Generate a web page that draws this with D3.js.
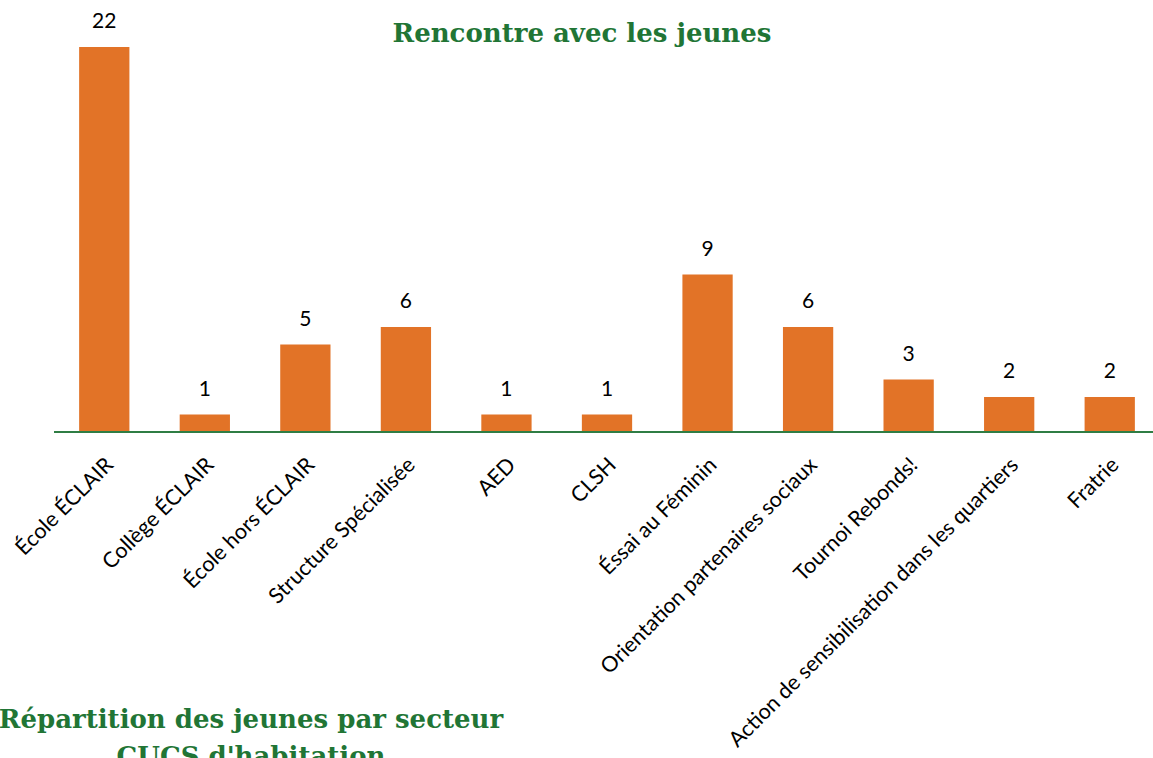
<!DOCTYPE html>
<html>
<head>
<meta charset="utf-8">
<script src="https://cdn.jsdelivr.net/npm/d3@7"></script>
<style>
  body { margin: 0; background: #fff; }
  svg { display: block; }
</style>
</head>
<body>
<div id="chart"></div>
<script>
var categories = ["École ÉCLAIR", "Collège ÉCLAIR", "École hors ÉCLAIR", "Structure Spécialisée",
  "AED", "CLSH", "Éssai au Féminin", "Orientation partenaires sociaux", "Tournoi Rebonds!",
  "Action de sensibilisation dans les quartiers", "Fratrie"];
var values = [22, 1, 5, 6, 1, 1, 9, 6, 3, 2, 2];
var title = "Rencontre avec les jeunes";
var subTitle = ["Répartition des jeunes par secteur", "CUCS d'habitation"];

var width = 1153, height = 758;
var svg = d3.select("#chart").append("svg")
  .attr("width", width)
  .attr("height", height);

var x = d3.scaleBand()
  .domain(categories)
  .range([54, 1160])
  .paddingInner(0.5)
  .paddingOuter(0.25);

var y = d3.scaleLinear()
  .domain([0, 22])
  .range([432, 47]);

svg.append("g")
  .selectAll("rect")
  .data(values)
  .enter().append("rect")
    .attr("x", function(d, i) { return x(categories[i]); })
    .attr("y", function(d) { return y(d); })
    .attr("width", x.bandwidth())
    .attr("height", function(d) { return y(0) - y(d); })
    .attr("fill", "#e27327");

// baseline
svg.append("line")
  .attr("x1", 54).attr("x2", width)
  .attr("y1", y(0)).attr("y2", y(0))
  .attr("stroke", "#2f7d44")
  .attr("stroke-width", 2);

// value labels
svg.append("g")
  .selectAll("text")
  .data(values)
  .enter().append("text")
    .attr("x", function(d, i) { return x(categories[i]) + x.bandwidth() / 2; })
    .attr("y", function(d) { return y(d) - 19; })
    .attr("text-anchor", "middle")
    .style("font-family", "Lato, 'Open Sans', sans-serif")
    .style("font-size", "21px")
    .attr("fill", "#000")
    .text(function(d) { return d; });

// category labels, rotated
svg.append("g")
  .selectAll("text")
  .data(categories)
  .enter().append("text")
    .attr("transform", function(d) {
      var cx = x(d) + x.bandwidth() / 2 + 5;
      return "translate(" + cx + "," + 461 + ")rotate(-45)";
    })
    .attr("text-anchor", "end")
    .attr("dy", "0.35em")
    .style("font-family", "Lato, 'Open Sans', sans-serif")
    .style("font-size", "21.5px")
    .attr("fill", "#000")
    .text(function(d) { return d; });

svg.append("text")
  .attr("x", 582)
  .attr("y", 42)
  .attr("text-anchor", "middle")
  .style("font-family", "'DejaVu Serif', 'Liberation Serif', serif")
  .style("font-weight", "bold")
  .style("font-size", "26px")
  .attr("fill", "#217535")
  .text(title);

svg.append("g")
  .selectAll("text")
  .data(subTitle)
  .enter().append("text")
    .attr("x", 251)
    .attr("y", function(d, i) { return 728 + i * 37; })
    .attr("text-anchor", "middle")
    .style("font-family", "'DejaVu Serif', 'Liberation Serif', serif")
    .style("font-weight", "bold")
    .style("font-size", "26px")
    .attr("fill", "#217535")
    .text(function(d) { return d; });
</script>
</body>
</html>
